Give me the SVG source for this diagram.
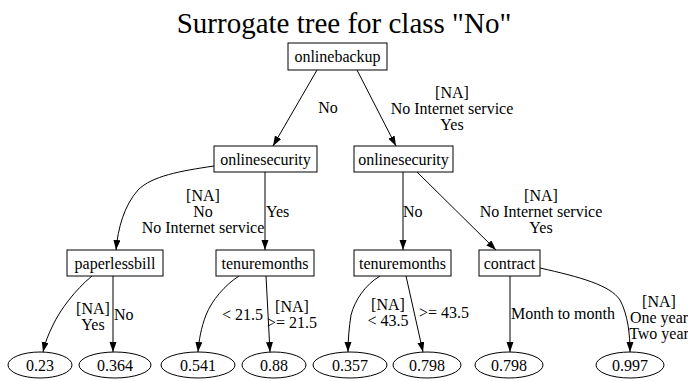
<svg xmlns="http://www.w3.org/2000/svg" width="688" height="381" viewBox="0 0 688 381">
<style>
text{font-family:"Liberation Serif","Times New Roman",Times,Tinos,"Noto Serif","DejaVu Serif",serif;font-size:16px;fill:#000}
.t{font-size:29px}
.m{text-anchor:middle}
.s{text-anchor:start}
.e{text-anchor:end}
.n rect,.n ellipse{fill:#fff;stroke:#000;stroke-width:1}
.c path{fill:none;stroke:#000;stroke-width:1;marker-end:url(#arr)}
</style>
<defs>
<marker id="arr" markerWidth="10" markerHeight="8" refX="10" refY="3.5" orient="auto" markerUnits="userSpaceOnUse"><path d="M0,0 L10,3.5 L0,7 z" fill="#000"/></marker>
</defs>
<rect width="688" height="381" fill="#fff"/>
<text class="t m" x="344" y="33" font-family="Liberation Serif, serif">Surrogate tree for class "No"</text>
<g class="c" id="connectors">
<path d="M317,70 L273,146"/>
<path d="M357,70 L396,146"/>
<path d="M214,166 C180,171 152,176 138,190 C124,206 118,228 116,250"/>
<path d="M265,172 L265,250"/>
<path d="M403,172 L403,250"/>
<path d="M417,172 L496,250"/>
<path d="M92,276 C75,290 60,310 53,325 C48,335 45,343 43,352"/>
<path d="M113,276 L113,352"/>
<path d="M239,276 C225,285 212,300 206,315 C201,328 199,340 198,352"/>
<path d="M266,276 L270,352"/>
<path d="M380,276 C365,285 355,300 351,315 C349,328 348,340 348,352"/>
<path d="M406,276 L423,352"/>
<path d="M510,276 L510,352"/>
<path d="M540,268 C580,277 610,285 620,300 C628,315 630,335 630,352"/>
</g>
<g id="edge-labels">
<text class="m" x="328" y="113">No</text>
<text class="m" x="452" y="98">[NA]</text>
<text class="m" x="452" y="114">No Internet service</text>
<text class="m" x="452" y="130">Yes</text>
<text class="m" x="203" y="201">[NA]</text>
<text class="m" x="203" y="217">No</text>
<text class="m" x="203" y="233">No Internet service</text>
<text class="s" x="266" y="217">Yes</text>
<text class="s" x="403" y="217">No</text>
<text class="m" x="541" y="201">[NA]</text>
<text class="m" x="541" y="217">No Internet service</text>
<text class="m" x="541" y="233">Yes</text>
<text class="m" x="93" y="314">[NA]</text>
<text class="m" x="93" y="330">Yes</text>
<text class="s" x="114" y="320">No</text>
<text class="e" x="263" y="320">&lt; 21.5</text>
<text class="m" x="292" y="312">[NA]</text>
<text class="m" x="292" y="328">&gt;= 21.5</text>
<text class="m" x="388" y="310">[NA]</text>
<text class="m" x="388" y="326">&lt; 43.5</text>
<text class="m" x="444" y="318">&gt;= 43.5</text>
<text class="s" x="511" y="319">Month to month</text>
<text class="m" x="659" y="307">[NA]</text>
<text class="m" x="659" y="323">One year</text>
<text class="m" x="659" y="339">Two year</text>
</g>
<g class="n" id="node-onlinebackup"><rect x="288" y="43" width="99" height="27"/><text class="m" x="337.5" y="62">onlinebackup</text></g>
<g class="n" id="node-onlinesecurity1"><rect x="214" y="146" width="103" height="26"/><text class="m" x="265.5" y="164.5">onlinesecurity</text></g>
<g class="n" id="node-onlinesecurity2"><rect x="354" y="146" width="99" height="26"/><text class="m" x="403.5" y="164.5">onlinesecurity</text></g>
<g class="n" id="node-paperlessbill"><rect x="67" y="250" width="96" height="26"/><text class="m" x="115" y="268.5">paperlessbill</text></g>
<g class="n" id="node-tenuremonths1"><rect x="216" y="250" width="98" height="26"/><text class="m" x="265" y="268.5">tenuremonths</text></g>
<g class="n" id="node-tenuremonths2"><rect x="354" y="250" width="97" height="26"/><text class="m" x="402.5" y="268.5">tenuremonths</text></g>
<g class="n" id="node-contract"><rect x="479" y="250" width="61" height="26"/><text class="m" x="509.5" y="268.5">contract</text></g>
<g class="n" id="leaf-1"><ellipse cx="40" cy="365" rx="32" ry="13"/><text class="m" x="40" y="370.5">0.23</text></g>
<g class="n" id="leaf-2"><ellipse cx="115" cy="365" rx="36" ry="13"/><text class="m" x="115" y="370.5">0.364</text></g>
<g class="n" id="leaf-3"><ellipse cx="198" cy="365" rx="37" ry="13"/><text class="m" x="198" y="370.5">0.541</text></g>
<g class="n" id="leaf-4"><ellipse cx="274" cy="365" rx="32" ry="13"/><text class="m" x="274" y="370.5">0.88</text></g>
<g class="n" id="leaf-5"><ellipse cx="350" cy="365" rx="37" ry="13"/><text class="m" x="350" y="370.5">0.357</text></g>
<g class="n" id="leaf-6"><ellipse cx="427" cy="365" rx="34" ry="13"/><text class="m" x="427" y="370.5">0.798</text></g>
<g class="n" id="leaf-7"><ellipse cx="509" cy="365" rx="34" ry="13"/><text class="m" x="509" y="370.5">0.798</text></g>
<g class="n" id="leaf-8"><ellipse cx="630" cy="365" rx="34" ry="13"/><text class="m" x="630" y="370.5">0.997</text></g>
</svg>
